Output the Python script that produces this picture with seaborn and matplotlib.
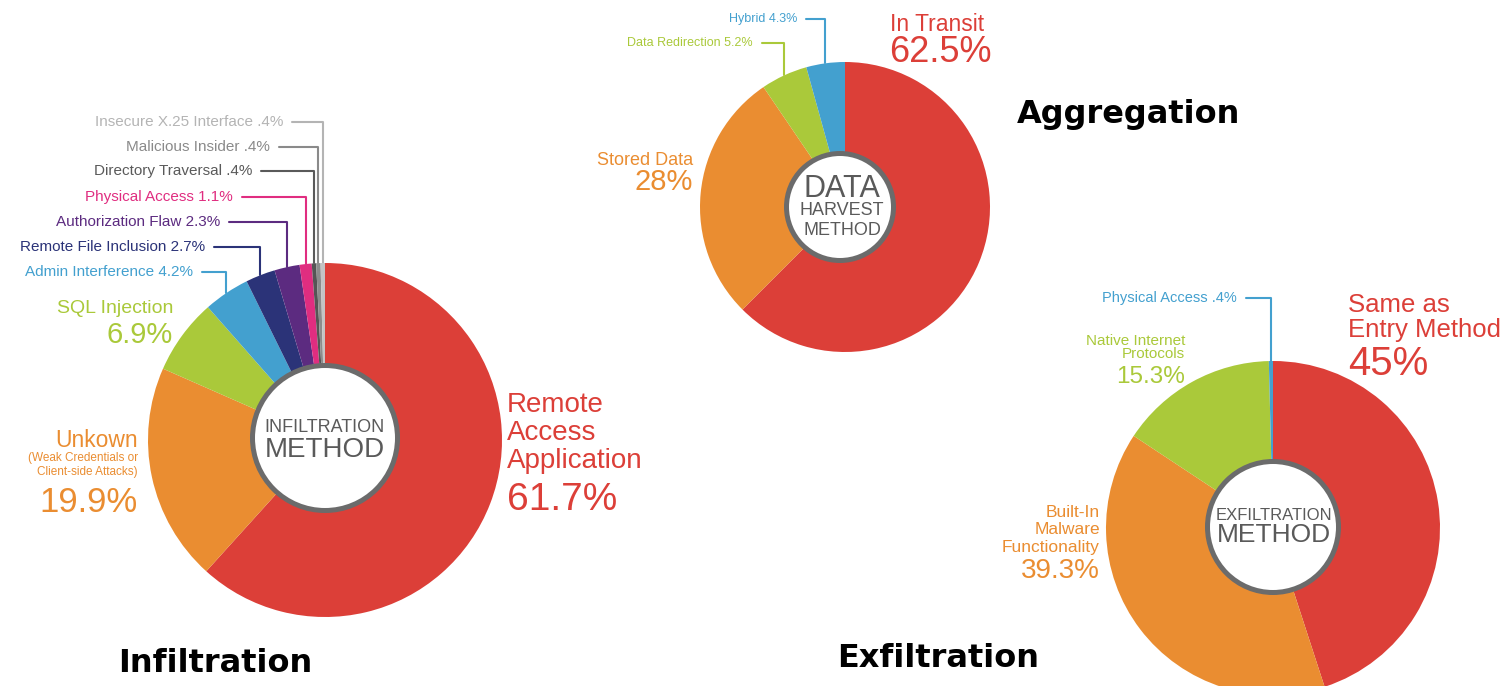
import numpy as np
import matplotlib
matplotlib.use("Agg")
import matplotlib.pyplot as plt
import seaborn as sns
from matplotlib.patches import Circle

# ---- data ----
infil_names = ["Remote\nAccess\nApplication", "Unkown", "SQL Injection", "Admin Interference",
               "Remote File Inclusion", "Authorization Flaw", "Physical Access",
               "Directory Traversal", "Malicious Insider", "Insecure X.25 Interface"]
infil_values = [61.7, 19.9, 6.9, 4.2, 2.7, 2.3, 1.1, 0.4, 0.4, 0.4]
infil_note = "(Weak Credentials or\nClient-side Attacks)"

aggr_names = ["In Transit", "Stored Data", "Data Redirection", "Hybrid"]
aggr_values = [62.5, 28, 5.2, 4.3]

exfil_names = ["Same as\nEntry Method", "Built-In\nMalware\nFunctionality",
               "Native Internet\nProtocols", "Physical Access"]
exfil_values = [45, 39.3, 15.3, 0.4]

titles = ["Infiltration", "Aggregation", "Exfiltration"]
centre_words = [["INFILTRATION", "METHOD"], ["DATA", "HARVEST", "METHOD"], ["EXFILTRATION", "METHOD"]]

RED, ORANGE, GREEN, BLUE = "#DC3F38", "#EA8D31", "#AAC93A", "#43A0CF"
NAVY, PURPLE, PINK = "#2B3378", "#5C2B80", "#E02D80"
infil_colors = sns.color_palette([RED, ORANGE, GREEN, BLUE, NAVY, PURPLE, PINK,
                                  "#555555", "#8C8C8C", "#C4C4C4"])
infil_text_colors = [RED, ORANGE, GREEN, BLUE, NAVY, PURPLE, PINK, "#5A5A5A", "#8A8A8A", "#B4B4B4"]
aggr_colors = sns.color_palette([RED, ORANGE, GREEN, BLUE])
exfil_colors = sns.color_palette([RED, ORANGE, GREEN, BLUE])


def pct(v):
    s = f"{v:g}"
    if s.startswith("0."):
        s = s[1:]
    return s + "%"


sns.set_theme(style="white")
LAB = ["Liberation Sans", "DejaVu Sans"]
NARROW = ["Liberation Sans Narrow", "Liberation Sans", "DejaVu Sans"]
plt.rcParams["font.family"] = LAB

W, H = 1506, 686
fig = plt.figure(figsize=(W / 100, H / 100), dpi=100)
ax = fig.add_axes([0, 0, 1, 1])


def Y(y):
    return H - y


def donut(values, colors, cx, cy, r, hole_c, hole_r):
    wedges, _ = ax.pie(values, colors=colors, startangle=90, counterclock=False,
                       radius=r, center=(cx, Y(cy)), wedgeprops=dict(linewidth=0))
    ax.add_patch(Circle((hole_c[0], Y(hole_c[1])), hole_r, facecolor="white",
                        edgecolor="#6B6B6B", linewidth=3.6, zorder=3))
    return wedges


def leader(wedge, cx, cy, r, x_right, y, text, color, size):
    ang = np.deg2rad((wedge.theta1 + wedge.theta2) / 2)
    ex = cx + r * np.cos(ang)
    ey = Y(cy) + r * np.sin(ang)
    ax.plot([x_right + 9, ex, ex], [Y(y), Y(y), ey], color=color, lw=1.5, zorder=0.5)
    ax.text(x_right, Y(y), text, ha="right", va="center", color=color, fontsize=size)


def stack(x, base, text, step, color, size, ha="left", family=LAB):
    for i, line in enumerate(text.split("\n")):
        ax.text(x, Y(base + i * step), line, ha=ha, va="baseline", color=color,
                fontsize=size, family=family)


# ---- Infiltration ----
cx, cy, r = 325, 440, 177
w = donut(infil_values, infil_colors, cx, cy, r, (325, 438), 72.5)
stack(507, 412, infil_names[0], 28, RED, 20)
stack(507, 510, pct(infil_values[0]), 0, RED, 28)
stack(138, 447, infil_names[1], 0, ORANGE, 16.5, ha="right")
stack(138, 461, infil_note, 14, ORANGE, 8.5, ha="right")
stack(138, 512, pct(infil_values[1]), 0, ORANGE, 25, ha="right")
stack(173, 313, infil_names[2], 0, GREEN, 14, ha="right")
stack(173, 343, pct(infil_values[2]), 0, GREEN, 21, ha="right")
small_right = [193, 205, 220, 233, 252, 270, 283]
small_y = [272, 247, 222, 197, 171, 147, 122]
for k, i in enumerate(range(3, 10)):
    leader(w[i], cx, cy, r, small_right[k], small_y[k],
           f"{infil_names[i]} {pct(infil_values[i])}", infil_text_colors[i], 11)

# ---- Aggregation ----
cx, cy, r = 845, 207, 145
w = donut(aggr_values, aggr_colors, cx, cy, r, (840, 207), 53.5)
stack(890, 31, aggr_names[0], 0, RED, 16.5)
stack(889, 62, pct(aggr_values[0]), 0, RED, 26)
stack(693, 165, aggr_names[1], 0, ORANGE, 13, ha="right")
stack(693, 190, pct(aggr_values[1]), 0, ORANGE, 21, ha="right")
leader(w[2], cx, cy, r, 753, 43, f"{aggr_names[2]} {pct(aggr_values[2])}", GREEN, 9)
leader(w[3], cx, cy, r, 797, 19, f"{aggr_names[3]} {pct(aggr_values[3])}", BLUE, 9)

# ---- Exfiltration ----
cx, cy, r = 1273, 528, 167
w = donut(exfil_values, exfil_colors, cx, cy, r, (1273, 527), 65.5)
stack(1348, 312, exfil_names[0], 25, RED, 18.5)
stack(1348, 375, pct(exfil_values[0]), 0, RED, 29)
stack(1100, 517, exfil_names[1], 17.5, ORANGE, 12.5, ha="right")
stack(1100, 578, pct(exfil_values[1]), 0, ORANGE, 20, ha="right")
stack(1185, 345, exfil_names[2], 13, GREEN, 11, ha="right")
stack(1185, 383, pct(exfil_values[2]), 0, GREEN, 17.5, ha="right")
leader(w[3], cx, cy, r, 1237, 298, f"{exfil_names[3]} {pct(exfil_values[3])}", BLUE, 10.5)

# ---- centre labels ----
GREY = "#5A5A5A"
for (x, bases, sizes), words in zip([(325, [432, 457], [13, 20]),
                                     (842, [197, 215, 235], [22, 13, 13]),
                                     (1274, [520, 542], [12, 19])], centre_words):
    for word, b, s in zip(words, bases, sizes):
        ax.text(x, Y(b), word, ha="center", va="baseline", color=GREY, fontsize=s,
                family=NARROW, zorder=4)

# ---- section titles ----
for (x, b), t in zip([(118, 672), (1017, 123), (837, 667)], titles):
    ax.text(x, Y(b), t, ha="left", va="baseline", fontsize=23, fontweight="bold",
            color="black", family=["DejaVu Sans"])

ax.set_xlim(0, W)
ax.set_ylim(0, H)
ax.set_aspect("equal")
ax.axis("off")
fig.savefig("out.png", dpi=100, facecolor="white")
